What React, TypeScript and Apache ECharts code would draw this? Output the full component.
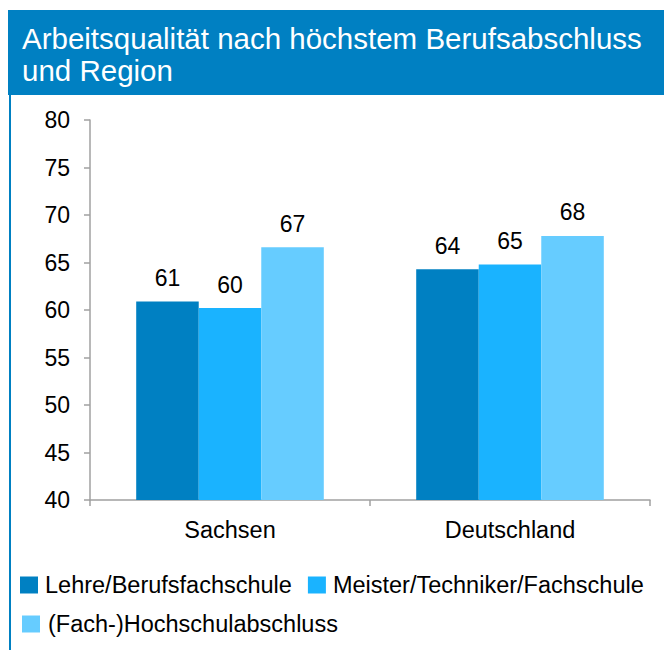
import React, { useEffect, useRef } from "react";
import * as echarts from "echarts";

const categories = ["Sachsen", "Deutschland"];
const seriesNames = ["Lehre/Berufsfachschule", "Meister/Techniker/Fachschule", "(Fach-)Hochschulabschluss"];
const lehre = [60.9, 64.3];
const meister = [60.2, 64.8];
const hochschule = [66.6, 67.8];
const colors = ["#0080C2", "#1AB3FF", "#66CCFF"];
const yTicks = { min: 40, max: 80, interval: 5 };

const FONT = "Liberation Sans, Arial, sans-serif";

export default function App() {
  const ref = useRef<HTMLDivElement>(null);
  useEffect(() => {
    if (!ref.current) return;
    const chart = echarts.init(ref.current, null, { renderer: "svg" });
    const values = [lehre, meister, hochschule];
    chart.setOption({
      animation: false,
      backgroundColor: "#ffffff",
      textStyle: { fontFamily: FONT },
      title: {
        text: "Arbeitsqualität nach höchstem Berufsabschluss\nund Region",
        left: 22,
        top: 22,
        padding: 0,
        textStyle: { color: "#ffffff", fontSize: 29.5, fontWeight: "normal", lineHeight: 32, fontFamily: FONT },
      },
      graphic: [
        { type: "rect", z: 0, shape: { x: 8, y: 10, width: 656, height: 85 }, style: { fill: "#0080C2" } },
        { type: "rect", z: 0, shape: { x: 9, y: 95, width: 2, height: 555 }, style: { fill: "#0080C2" } },
      ],
      legend: [
        {
          data: seriesNames.slice(0, 2),
          left: 20,
          top: 573,
          padding: 0,
          itemWidth: 18,
          itemHeight: 17,
          itemGap: 16,
          icon: "rect",
          textStyle: { fontSize: 23.5, color: "#000000", fontFamily: FONT, padding: [0, 0, 0, 2] },
        },
        {
          data: seriesNames.slice(2),
          left: 22,
          top: 612,
          padding: 0,
          itemWidth: 18,
          itemHeight: 17,
          icon: "rect",
          textStyle: { fontSize: 23.5, color: "#000000", fontFamily: FONT, padding: [0, 0, 0, 3] },
        },
      ],
      grid: { left: 90, right: 14, top: 120, bottom: 150, containLabel: false },
      xAxis: {
        type: "category",
        data: categories,
        axisLine: { show: true, lineStyle: { color: "#A0A0A0", width: 1.5 } },
        axisTick: { show: true, length: 6, lineStyle: { color: "#A0A0A0", width: 1.5 } },
        axisLabel: { color: "#000000", fontSize: 23.5, margin: 18, fontFamily: FONT },
        splitLine: { show: false },
      },
      yAxis: {
        type: "value",
        min: yTicks.min,
        max: yTicks.max,
        interval: yTicks.interval,
        axisLine: { show: true, lineStyle: { color: "#A0A0A0", width: 1.5 } },
        axisTick: { show: true, length: 6, lineStyle: { color: "#A0A0A0", width: 1.5 } },
        axisLabel: { color: "#000000", fontSize: 23, margin: 20, fontFamily: FONT },
        splitLine: { show: false },
      },
      series: seriesNames.map((name, i) => ({
        name,
        type: "bar",
        data: values[i],
        barGap: "0%",
        barCategoryGap: "33%",
        itemStyle: { color: colors[i] },
        label: {
          show: true,
          position: "top",
          distance: 12,
          color: "#000000",
          fontSize: 23,
          fontFamily: FONT,
          formatter: (p: any) => String(Math.round(p.value)),
        },
      })),
    });
    return () => chart.dispose();
  }, []);
  return <div ref={ref} style={{ position: "fixed", left: 0, top: 0, width: 664, height: 650 }} />;
}
